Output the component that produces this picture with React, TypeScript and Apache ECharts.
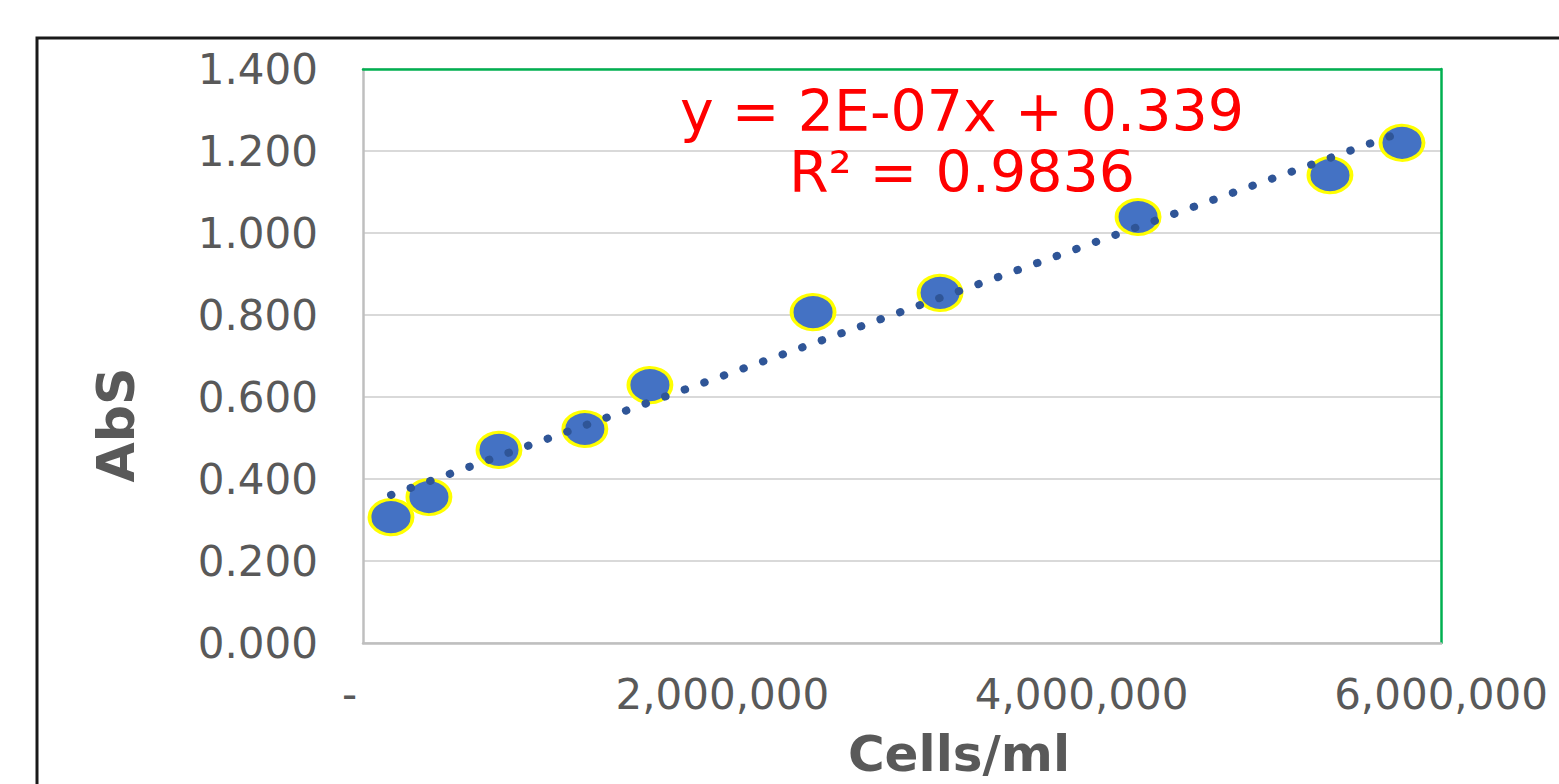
import React, { useEffect, useRef } from "react";
import * as echarts from "echarts";

const cellsPerMl = [155800, 367000, 757000, 1235000, 1597000, 2505000, 3212000, 4314000, 5382000, 5783000];
const absValues = [0.307, 0.356, 0.471, 0.522, 0.629, 0.807, 0.854, 1.039, 1.141, 1.22];
const equationLines = ["y = 2E-07x + 0.339", "R² = 0.9836"];
const xAxisTitle = "Cells/ml";
const yAxisTitle = "AbS";

function regression(xs: number[], ys: number[]) {
  const n = xs.length;
  const mx = xs.reduce((a, b) => a + b, 0) / n;
  const my = ys.reduce((a, b) => a + b, 0) / n;
  let sxy = 0;
  let sxx = 0;
  for (let i = 0; i < n; i++) {
    sxy += (xs[i] - mx) * (ys[i] - my);
    sxx += (xs[i] - mx) * (xs[i] - mx);
  }
  const slope = sxy / sxx;
  return { slope, intercept: my - slope * mx };
}

export default function App() {
  const ref = useRef<HTMLDivElement>(null);
  useEffect(() => {
    if (!ref.current) return;
    const chart = echarts.init(ref.current, null, { renderer: "svg" });
    const { slope, intercept } = regression(cellsPerMl, absValues);
    const xMin = Math.min(...cellsPerMl);
    const xMax = Math.max(...cellsPerMl);
    const trend = [
      [xMin, intercept + slope * xMin],
      [xMax, intercept + slope * xMax],
    ];
    const labelColor = "#595959";
    const font = "DejaVu Sans";
    chart.setOption({
      animation: false,
      backgroundColor: "#ffffff",
      grid: { left: 363, right: 118, top: 69, bottom: 141, containLabel: false },
      xAxis: [
        {
          type: "value",
          min: 0,
          max: 6000000,
          interval: 2000000,
          position: "bottom",
          axisLine: { show: true, onZero: false, lineStyle: { color: "#BFBFBF", width: 2.5 } },
          axisTick: { show: false },
          splitLine: { show: false },
          axisLabel: {
            margin: 30,
            fontFamily: font,
            fontSize: 42,
            color: labelColor,
            formatter: (v: number) => (v === 0 ? "-\u00a0\u00a0" : v.toLocaleString("en-US")),
          },
        },
        {
          type: "value",
          min: 0,
          max: 6000000,
          position: "top",
          axisLine: { show: true, onZero: false, lineStyle: { color: "#00B050", width: 2.5 } },
          axisTick: { show: false },
          axisLabel: { show: false },
          splitLine: { show: false },
        },
      ],
      yAxis: [
        {
          type: "value",
          min: 0,
          max: 1.4,
          interval: 0.2,
          position: "left",
          axisLine: { show: true, onZero: false, lineStyle: { color: "#BFBFBF", width: 2.5 } },
          axisTick: { show: false },
          splitLine: { show: true, lineStyle: { color: "#D9D9D9", width: 2 } },
          axisLabel: {
            margin: 45,
            fontFamily: font,
            fontSize: 42,
            color: labelColor,
            formatter: (v: number) => v.toFixed(3),
          },
        },
        {
          type: "value",
          min: 0,
          max: 1.4,
          position: "right",
          axisLine: { show: true, onZero: false, lineStyle: { color: "#00B050", width: 2.5 } },
          axisTick: { show: false },
          axisLabel: { show: false },
          splitLine: { show: false },
        },
      ],
      series: [
        {
          type: "scatter",
          xAxisIndex: 0,
          yAxisIndex: 0,
          data: cellsPerMl.map((x, i) => [x, absValues[i]]),
          symbol: "circle",
          symbolSize: [43, 35],
          itemStyle: { color: "#4472C4", borderColor: "#FFFF00", borderWidth: 3.5, opacity: 1 },
          z: 2,
        },
        {
          type: "line",
          xAxisIndex: 0,
          yAxisIndex: 0,
          data: trend,
          showSymbol: false,
          symbol: "none",
          lineStyle: { color: "#2F5597", width: 8, type: [0.5, 20.3], cap: "round" },
          z: 3,
        },
      ],
      graphic: [
        {
          type: "rect",
          shape: { x: 37, y: 38, width: 1600, height: 800 },
          style: { fill: "none", stroke: "#1a1a1a", lineWidth: 3 },
          z: 10,
        },
        {
          type: "text",
          x: 962,
          y: 111,
          style: {
            text: equationLines[0],
            fill: "#FF0000",
            fontFamily: font,
            fontSize: 57,
            textAlign: "center",
            textVerticalAlign: "middle",
          },
          z: 10,
        },
        {
          type: "text",
          x: 962,
          y: 172,
          style: {
            text: equationLines[1],
            fill: "#FF0000",
            fontFamily: font,
            fontSize: 57,
            textAlign: "center",
            textVerticalAlign: "middle",
          },
          z: 10,
        },
        {
          type: "text",
          x: 959,
          y: 779,
          style: {
            text: xAxisTitle,
            fill: labelColor,
            fontFamily: font,
            fontWeight: "bold",
            fontSize: 50,
            lineHeight: 50,
            textAlign: "center",
            textVerticalAlign: "bottom",
          },
          z: 10,
        },
        {
          type: "text",
          x: 116,
          y: 425,
          rotation: Math.PI / 2,
          style: {
            text: yAxisTitle,
            fill: labelColor,
            fontFamily: font,
            fontWeight: "bold",
            fontSize: 52,
            textAlign: "center",
            textVerticalAlign: "middle",
          },
          z: 10,
        },
      ],
    });
    return () => chart.dispose();
  }, []);
  return (
    <div
      ref={ref}
      style={{ position: "absolute", left: 0, top: 0, width: 1559, height: 784 }}
    />
  );
}
